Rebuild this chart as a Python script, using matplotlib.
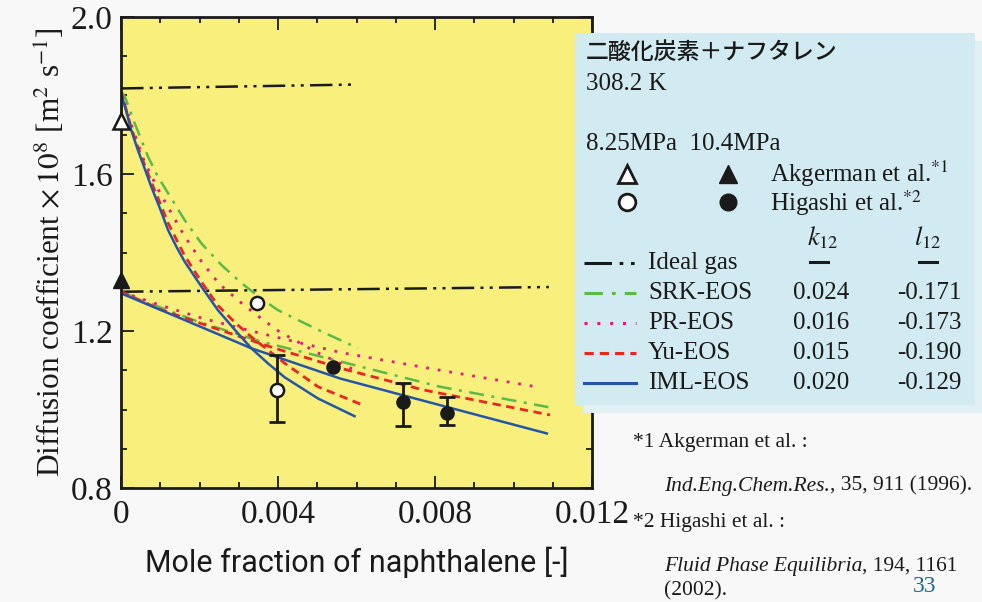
import matplotlib
matplotlib.use("Agg")
import matplotlib.pyplot as plt
from matplotlib.patches import Rectangle
from matplotlib.lines import Line2D
from matplotlib.ticker import MultipleLocator

plt.rcParams['font.family'] = ['Liberation Serif', 'DejaVu Serif']
plt.rcParams['mathtext.fontset'] = 'stix'

# ideal gas (8.25 MPa upper, 10.4 MPa lower)
ig_hi_x = [0, 0.006]
ig_hi_y = [1.818, 1.828]
ig_lo_x = [0, 0.0109]
ig_lo_y = [1.300, 1.312]

# EOS model curves at 8.25 MPa
srk_hi_x = [0, 0.0001, 0.00035, 0.00069, 0.00094, 0.0012, 0.00162, 0.00205, 0.00256,
            0.00307, 0.00357, 0.004, 0.00502, 0.00604]
srk_hi_y = [1.81, 1.797, 1.729, 1.644, 1.593, 1.551, 1.483, 1.423, 1.368,
            1.322, 1.283, 1.253, 1.203, 1.156]
pr_hi_x = [0, 0.0003, 0.0006, 0.00095, 0.00124, 0.0016, 0.00205, 0.0025, 0.00307,
           0.00357, 0.00404, 0.005, 0.0059]
pr_hi_y = [1.81, 1.715, 1.63, 1.56, 1.508, 1.445, 1.377, 1.32, 1.271,
           1.232, 1.198, 1.145, 1.103]
yu_hi_x = [0, 0.00013, 0.00026, 0.00043, 0.0006, 0.00077, 0.00099, 0.0012, 0.00162,
           0.00205, 0.00247, 0.0029, 0.00332, 0.00417, 0.00502, 0.00617]
yu_hi_y = [1.81, 1.765, 1.718, 1.668, 1.623, 1.58, 1.527, 1.475, 1.392,
           1.325, 1.265, 1.222, 1.185, 1.118, 1.058, 1.011]
iml_hi_x = [0, 0.000136, 0.00026, 0.00043, 0.0006, 0.00077, 0.00099, 0.0012, 0.00141,
            0.00162, 0.00205, 0.00247, 0.0029, 0.00332, 0.00375, 0.00417, 0.00502, 0.00595]
iml_hi_y = [1.806, 1.759, 1.712, 1.661, 1.615, 1.568, 1.513, 1.457, 1.415,
            1.377, 1.313, 1.253, 1.203, 1.156, 1.117, 1.082, 1.028, 0.983]

# EOS model curves at 10.4 MPa
srk_lo_x = [0, 0.001, 0.00196, 0.00357, 0.00544, 0.00813, 0.01089]
srk_lo_y = [1.30, 1.26, 1.224, 1.173, 1.126, 1.058, 1.006]
pr_lo_x = [0, 0.00099, 0.00209, 0.00328, 0.00442, 0.00561, 0.00813, 0.01063]
pr_lo_y = [1.30, 1.266, 1.232, 1.201, 1.173, 1.145, 1.10, 1.057]
yu_lo_x = [0, 0.001, 0.00239, 0.00392, 0.00575, 0.0077, 0.01093]
yu_lo_y = [1.30, 1.255, 1.207, 1.156, 1.101, 1.05, 0.986]
iml_lo_x = [0, 0.00162, 0.00332, 0.00558, 0.00813, 0.01085]
iml_lo_y = [1.296, 1.228, 1.156, 1.079, 1.011, 0.939]

# measured data
akg_hi_x, akg_hi_y = [0], [1.735]
akg_lo_x, akg_lo_y = [0], [1.33]
hig_hi_x = [0.00347, 0.00397]
hig_hi_y = [1.271, 1.050]
hig_lo_x = [0.0054, 0.00719, 0.0083]
hig_lo_y = [1.108, 1.019, 0.991]
# error bars (x, y, lower, upper)
err_x = [0.00397, 0.00719, 0.0083]
err_y = [1.050, 1.019, 0.991]
err_dn = [0.081, 0.061, 0.031]
err_up = [0.089, 0.048, 0.040]

models = ['SRK-EOS', 'PR-EOS', 'Yu-EOS', 'IML-EOS']
k12 = ['0.024', '0.016', '0.015', '0.020']
l12 = ['-0.171', '-0.173', '-0.190', '-0.129']

c_srk = '#5cb947'
c_pr = '#e5177b'
c_yu = '#ee2424'
c_iml = '#2456a8'
ig_style = (0, (9, 2.5, 1.2, 2.5, 1.2, 2.5))
srk_style = (0, (6, 3, 1.2, 3))
pr_style = (0, (1, 3.2))
yu_style = (0, (3, 2))

fig = plt.figure(figsize=(9.82, 6.02), dpi=100)
fig.patch.set_facecolor('#f8f8f8')
ax = fig.add_axes([121 / 982, 1 - 488 / 602, 471 / 982, 471 / 602])
ax.set_facecolor('#f8ef7c')

for xs, ys in [(ig_hi_x, ig_hi_y), (ig_lo_x, ig_lo_y)]:
    ax.plot(xs, ys, color='#1a1a1a', lw=1.8, linestyle=ig_style)
for xs, ys in [(srk_hi_x, srk_hi_y), (srk_lo_x, srk_lo_y)]:
    ax.plot(xs, ys, color=c_srk, lw=1.8, linestyle=srk_style)
for xs, ys in [(pr_hi_x, pr_hi_y), (pr_lo_x, pr_lo_y)]:
    ax.plot(xs, ys, color=c_pr, lw=2.0, linestyle=pr_style)
for xs, ys in [(yu_hi_x, yu_hi_y), (yu_lo_x, yu_lo_y)]:
    ax.plot(xs, ys, color=c_yu, lw=2.0, linestyle=yu_style)
for xs, ys in [(iml_hi_x, iml_hi_y), (iml_lo_x, iml_lo_y)]:
    ax.plot(xs, ys, color=c_iml, lw=1.8)

ax.errorbar(err_x, err_y, yerr=[err_dn, err_up], fmt='none', ecolor='#1a1a1a',
            elinewidth=2, capsize=6, capthick=2, zorder=4)
ax.plot(akg_hi_x, akg_hi_y, '^', ms=11, mfc='white', mec='#1a1a1a', mew=1.8, clip_on=False, zorder=5)
ax.plot(akg_lo_x, akg_lo_y, '^', ms=11, mfc='#1a1a1a', mec='#1a1a1a', clip_on=False, zorder=5)
ax.plot(hig_hi_x, hig_hi_y, 'o', ms=9.5, mfc='white', mec='#1a1a1a', mew=1.8, zorder=5)
ax.plot(hig_lo_x, hig_lo_y, 'o', ms=9.5, mfc='#1a1a1a', mec='#1a1a1a', zorder=5)

ax.set_xlim(0, 0.012)
ax.set_ylim(0.8, 2.0)
ax.xaxis.set_minor_locator(MultipleLocator(0.001))
ax.yaxis.set_minor_locator(MultipleLocator(0.1))
ax.set_xticks([0, 0.004, 0.008, 0.012], ['0', '0.004', '0.008', '0.012'])
ax.set_yticks([0.8, 1.2, 1.6, 2.0], ['0.8', '1.2', '1.6', '2.0'])
ax.tick_params(which='both', direction='in', top=True, right=True, width=1.3, color='#1a1a1a')
ax.tick_params(which='major', length=9, labelsize=24, labelcolor='#1a1a1a')
ax.tick_params(which='minor', length=4.5)
ax.tick_params(axis='x', pad=8)
ax.tick_params(axis='y', pad=6)
for s in ax.spines.values():
    s.set_linewidth(2)
    s.set_color('#1a1a1a')

ax.set_ylabel(r'Diffusion coefficient $\times\,10^{8}$ [m$^{2}$ s$^{-1}$]',
              fontsize=22.5, color='#1a1a1a', labelpad=2)
ax.set_xlabel('Mole fraction of naphthalene [-]', fontsize=22, color='#1a1a1a',
              family=['Roboto', 'DejaVu Sans'], labelpad=12)

# overlay in pixel units for the key box and references
ov = fig.add_axes([0, 0, 1, 1])
ov.set_xlim(0, 982)
ov.set_ylim(602, 0)
ov.axis('off')
ov.set_zorder(5)

ov.add_patch(Rectangle((583, 41), 399, 372, facecolor='#e0f0f4', edgecolor='none'))
ov.add_patch(Rectangle((575, 33), 400, 372, facecolor='#d2eaf1', edgecolor='none'))

tc = '#1a1a1a'
fs = 18
ov.text(586, 52, '二酸化炭素＋ナフタレン', fontsize=16.5, color=tc, va='center',
        family=['Noto Sans CJK JP', 'DejaVu Sans'], fontweight='medium')
ov.text(586, 84, '308.2 K', fontsize=fs, color=tc, va='center')
ov.text(586, 144, '8.25MPa  10.4MPa', fontsize=fs, color=tc, va='center')
ov.plot([627], [174], '^', ms=13, mfc='white', mec=tc, mew=2)
ov.plot([728], [174], '^', ms=13, mfc=tc, mec=tc)
ov.plot([627], [202], 'o', ms=12, mfc='white', mec=tc, mew=2)
ov.plot([728], [202], 'o', ms=12, mfc=tc, mec=tc)
ov.text(770, 174, r'Akgerman et al.$^{*1}$', fontsize=fs, color=tc, va='center')
ov.text(770, 203, r'Higashi et al.$^{*2}$', fontsize=fs, color=tc, va='center')
ov.text(823, 238, r'$k_{12}$', fontsize=19, color=tc, ha='center', va='center')
ov.text(928, 238, r'$l_{12}$', fontsize=19, color=tc, ha='center', va='center')

key_y = [263, 293, 323, 353, 383]
key_names = ['Ideal gas'] + models
key_k = [None] + k12
key_l = [None] + l12
key_col = ['#1a1a1a', c_srk, c_pr, c_yu, c_iml]
key_ls = [ig_style, srk_style, pr_style, yu_style, '-']
for yy, nm, kk, ll, cc, ls in zip(key_y, key_names, key_k, key_l, key_col, key_ls):
    ov.add_line(Line2D([584, 636], [yy, yy], color=cc, lw=2.2, linestyle=ls))
    ov.text(648, yy, nm, fontsize=fs, color=tc, va='center')
    if kk is None:
        # no fitted parameters for the ideal gas
        ov.add_line(Line2D([810, 828], [yy - 1, yy - 1], color=tc, lw=2.2))
        ov.add_line(Line2D([919, 937], [yy - 1, yy - 1], color=tc, lw=2.2))
        continue
    ov.text(821, yy, kk, fontsize=fs, color=tc, va='center', ha='center')
    ov.text(929, yy, ll, fontsize=fs, color=tc, va='center', ha='center')

# reference notes: italic journal name followed by upright volume/page
fn = 15.5
fig.canvas.draw()
renderer = fig.canvas.get_renderer()


def ref_line(x, y, journal, rest):
    t = ov.text(x, y, journal, fontsize=fn, color=tc, va='center', style='italic')
    bb = t.get_window_extent(renderer)
    x_end = ov.transData.inverted().transform((bb.x1, bb.y0))[0]
    ov.text(x_end, y, rest, fontsize=fn, color=tc, va='center')


ov.text(633, 442, '*1 Akgerman et al. :', fontsize=fn, color=tc, va='center')
ref_line(664, 486, 'Ind.Eng.Chem.Res.', ', 35, 911 (1996).')
ov.text(633, 523, '*2 Higashi et al. :', fontsize=fn, color=tc, va='center')
ref_line(664, 566, 'Fluid Phase Equilibria', ', 194, 1161')
ov.text(664, 591, '(2002).', fontsize=fn, color=tc, va='center')
ov.text(925, 587, '33', fontsize=17, color='#1d6b80', va='center', ha='center')

fig.savefig('out.png', dpi=100, facecolor=fig.get_facecolor())
